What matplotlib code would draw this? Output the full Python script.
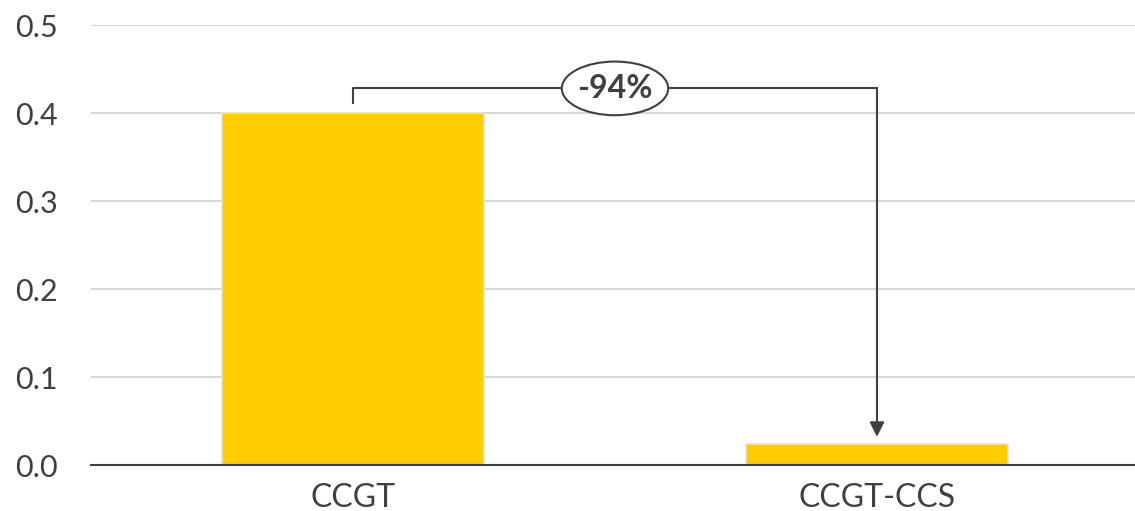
import matplotlib.pyplot as plt
from matplotlib.patches import Ellipse

categories = ['CCGT', 'CCGT-CCS']
values = [0.40, 0.024]
change_label = '-94%'

plt.rcParams['font.family'] = ['Lato', 'DejaVu Sans']
text_color = '#404040'

fig = plt.figure(figsize=(11.35, 5.11), dpi=100)
ax = fig.add_axes([0.0802, 0.090, 0.9233, 0.861])

x = range(len(categories))
ax.bar(x, values, width=0.5, color='#FFCC00', edgecolor='#e3e3e3', linewidth=1.2, zorder=3)

ax.set_xlim(-0.5, 1.5)
ax.set_ylim(0, 0.5)
ax.set_yticks([0, 0.1, 0.2, 0.3, 0.4, 0.5])
ax.set_yticklabels([f'{t:.1f}' for t in ax.get_yticks()])
ax.set_xticks(list(x))
ax.set_xticklabels(categories)
ax.tick_params(axis='x', length=0, labelsize=23, colors=text_color, pad=13)
ax.tick_params(axis='y', length=0, labelsize=22, colors=text_color, pad=24)

ax.grid(axis='y', color='#d0d0d0', linewidth=1.2, zorder=0)
for s in ['top', 'right', 'left']:
    ax.spines[s].set_visible(False)
ax.spines['bottom'].set_color(text_color)
ax.spines['bottom'].set_linewidth(1.5)
ax.spines['bottom'].set_zorder(4)

# bracket annotation between the bars
top = 0.428
ax.plot([0, 0, 1], [values[0] + 0.011, top, top], color=text_color, lw=1.5, zorder=5, clip_on=False)
ax.annotate('', xy=(1, values[1] + 0.008), xytext=(1, top),
            arrowprops=dict(arrowstyle='-|>', color=text_color, lw=1.5, mutation_scale=22,
                            shrinkA=0, shrinkB=0), zorder=5)
ax.add_patch(Ellipse((0.5, top), 0.203, 0.061, fc='white', ec=text_color, lw=1.5, zorder=6))
ax.text(0.5, top, change_label, ha='center', va='center', fontsize=23, fontweight='bold',
        color=text_color, zorder=7)

fig.savefig('out.png', dpi=100)
